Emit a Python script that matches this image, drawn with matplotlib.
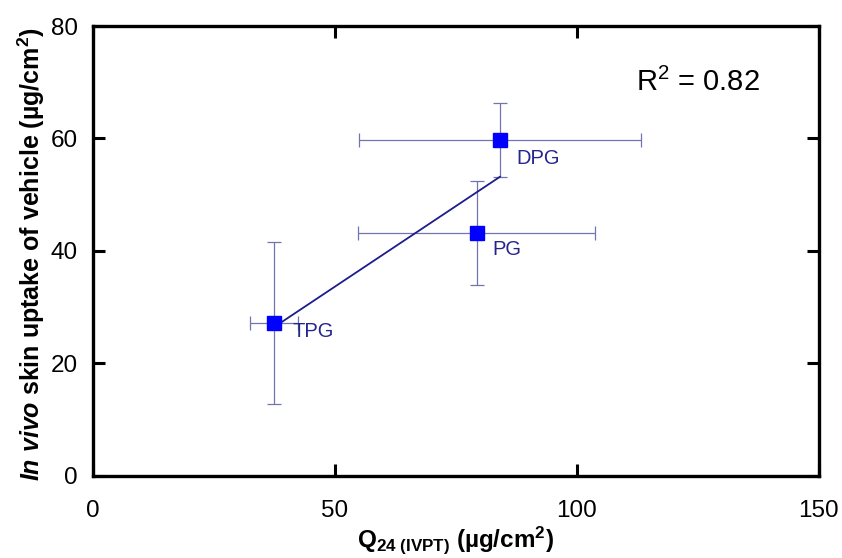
import numpy as np
import matplotlib
matplotlib.use("Agg")
import matplotlib.pyplot as plt

plt.rcParams['font.family'] = ['Liberation Sans', 'DejaVu Sans']
plt.rcParams['mathtext.fontset'] = 'custom'
plt.rcParams['mathtext.rm'] = 'Liberation Sans'
plt.rcParams['mathtext.it'] = 'Liberation Sans:italic'
plt.rcParams['mathtext.bf'] = 'Liberation Sans:bold'
plt.rcParams['mathtext.bfit'] = 'Liberation Sans:bold:italic'

# data
vehicles = ['TPG', 'PG', 'DPG']
q24 = [37.4, 79.3, 84.1]
q24_err = [4.9, 24.5, 29.1]
uptake = [27.2, 43.2, 59.7]
uptake_err = [14.4, 9.3, 6.6]
label_offsets = [(3.9, -1.6), (3.3, -3.0), (3.3, -3.2)]
x_ticks = [0, 50, 100, 150]
y_ticks = [0, 20, 40, 60, 80]

fig = plt.figure(figsize=(8.42, 5.58), dpi=100)
ax = fig.add_axes([0.1105, 0.147, 0.862, 0.8064])

ax.errorbar(q24, uptake, xerr=q24_err, yerr=uptake_err, fmt='none',
            ecolor='#7373b0', elinewidth=0.9, capsize=5, capthick=0.9, zorder=2)

# linear fit through the points
slope, icpt = np.polyfit(q24, uptake, 1)
xs = np.array([min(q24), max(q24)])
ax.plot(xs, slope * xs + icpt, color='#1c1c8c', lw=1.3, zorder=3)

ax.plot(q24, uptake, 's', color='#0000ff', ms=10.5, zorder=4)

for name, x, y, (dx, dy) in zip(vehicles, q24, uptake, label_offsets):
    ax.text(x + dx, y + dy, name, fontsize=14.5, color='#25258f',
            ha='left', va='center')

ax.text(112.3, 69.9, r'R$^2$ = 0.82', fontsize=21, ha='left', va='center')

ax.set_xlim(0, 150)
ax.set_ylim(0, 80)
ax.set_xticks(x_ticks)
ax.set_yticks(y_ticks)
for s in ax.spines.values():
    s.set_linewidth(2.4)
ax.tick_params(direction='in', length=8.6, width=2.2, top=True, right=True,
               labelsize=17.5)
ax.tick_params(axis='x', pad=17)
ax.tick_params(axis='y', pad=11)

ax.set_xlabel(r'Q$_{\mathbf{24\ (IVPT)}}$ (µg/cm$^{\mathbf{2}}$)',
              fontsize=17.5, fontweight='bold')
ax.set_ylabel(r'$\mathbfit{In\ vivo}$ skin uptake of vehicle (µg/cm$^{\mathbf{2}}$)',
              fontsize=18, fontweight='bold')
ax.xaxis.set_label_coords(0.5, -0.108)
ax.yaxis.set_label_coords(-0.064, 0.493)

fig.savefig('out.png', dpi=100)
